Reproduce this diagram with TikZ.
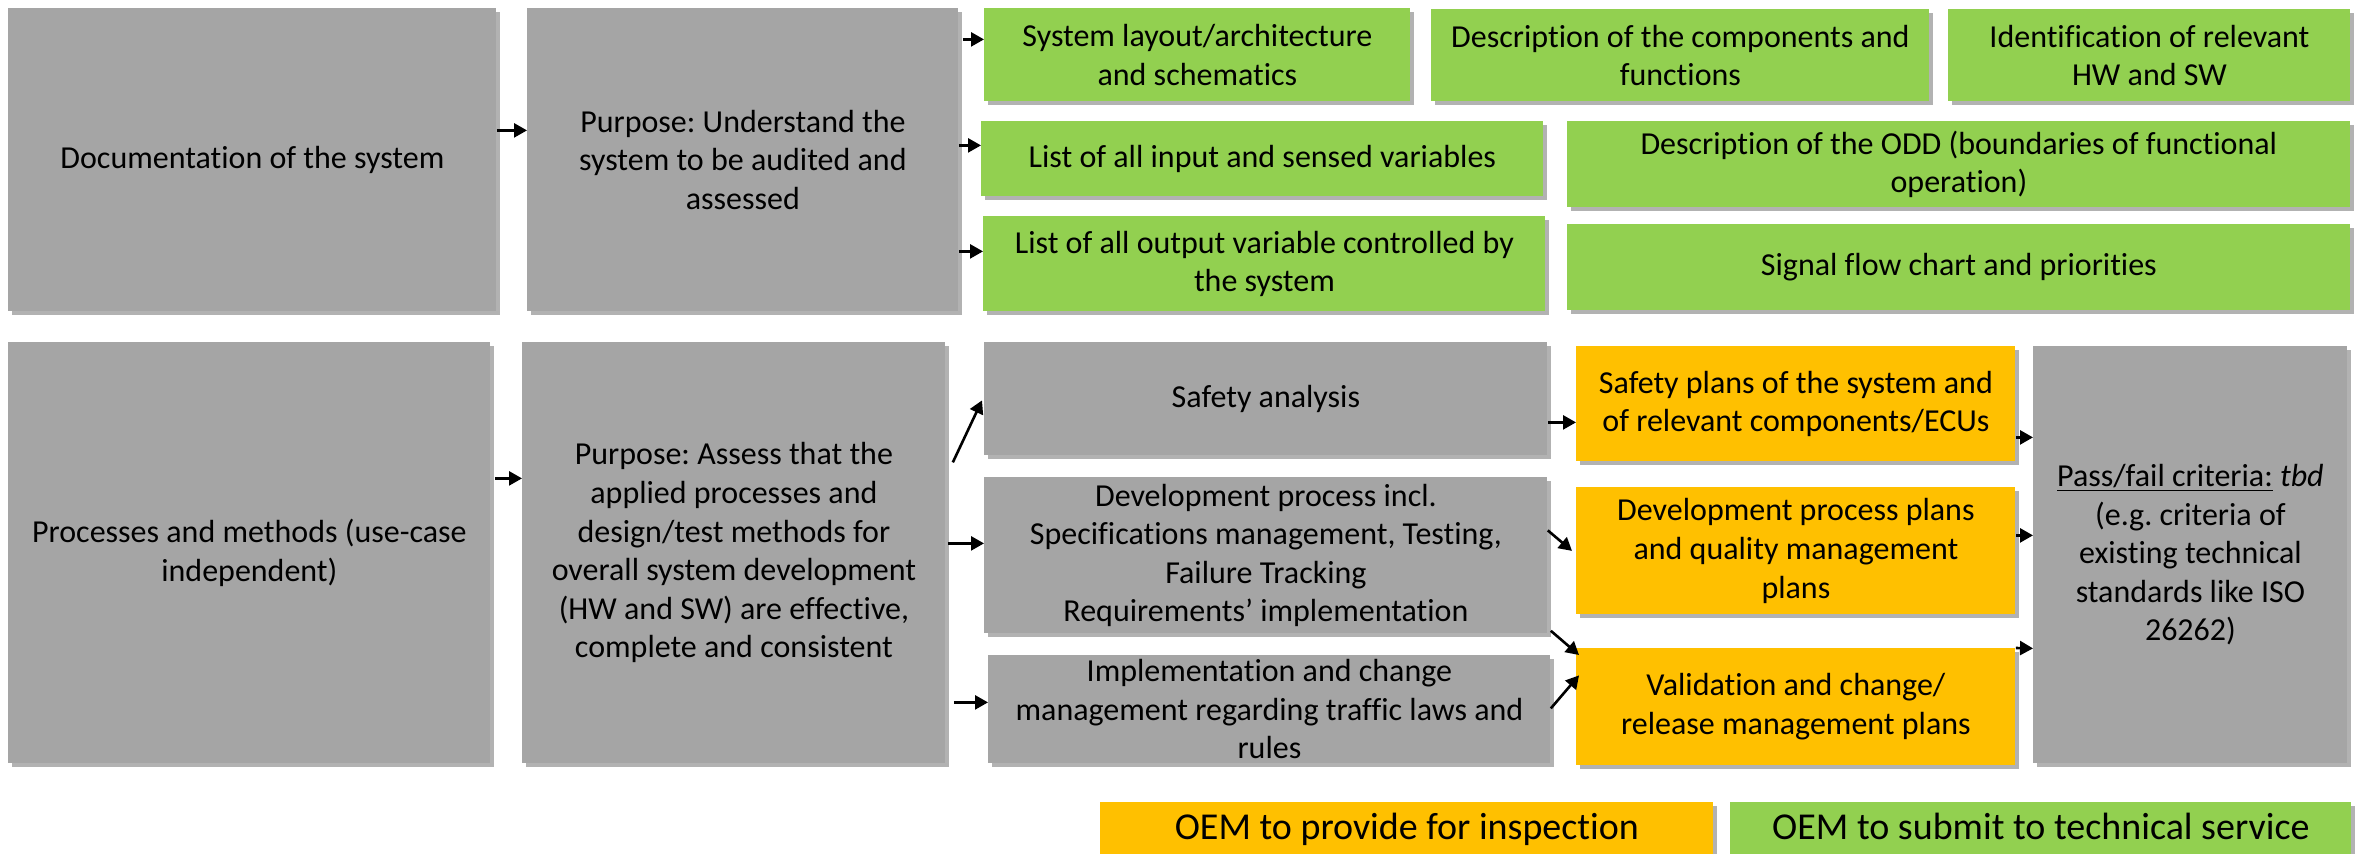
\documentclass[tikz,border=0pt]{standalone}
\usepackage{fontspec}
\setmainfont{Carlito}[Ligatures=NoCommon]
\usetikzlibrary{arrows.meta,shadows}
\definecolor{boxgray}{HTML}{A5A5A5}
\definecolor{boxgreen}{HTML}{92D050}
\definecolor{boxorange}{HTML}{FFC000}
\frenchspacing
\begin{document}
\begin{tikzpicture}[x=0.5pt,y=-0.5pt,
  bx/.style={inner sep=0pt, anchor=north west, align=center, font=\fontsize{16}{19.3}\selectfont\frenchspacing,
    drop shadow={shadow xshift=1.6pt, shadow yshift=-1.6pt, opacity=0.3, fill=black}},
  gbox/.style={bx, fill=boxgray},
  grbox/.style={bx, fill=boxgreen},
  obox/.style={bx, fill=boxorange},
  legbox/.style={bx, font=\fontsize{19}{22}\selectfont, text depth=2pt},
  arr/.style={line width=1.3pt, -{Triangle[length=6.5pt,width=7pt]}}]
\useasboundingbox (0,0) rectangle (2359,854);
% top row
\node[gbox, minimum width=244pt, minimum height=151.5pt] (A) at (8,8) {Documentation of the system};
\node[gbox, minimum width=215.5pt, minimum height=151.5pt] (B) at (527,8) {Purpose: Understand the\\system to be audited and\\assessed};
\node[grbox, minimum width=213pt, minimum height=46.5pt] (g1) at (984,8) {System layout/architecture\\and schematics};
\node[grbox, minimum width=249pt, minimum height=46pt] (g2) at (1431,9) {Description of the components and\\functions};
\node[grbox, minimum width=201pt, minimum height=46pt] (g3) at (1948,9) {Identification of relevant\\HW and SW};
\node[grbox, minimum width=281pt, minimum height=37.5pt] (g4) at (981,121) {List of all input and sensed variables};
\node[grbox, minimum width=391.5pt, minimum height=43pt] (g5) at (1567,121) {Description of the ODD (boundaries of functional\\operation)};
\node[grbox, minimum width=281pt, minimum height=47.5pt] (g6) at (983,216) {List of all output variable controlled by\\the system};
\node[grbox, minimum width=391.5pt, minimum height=43pt] (g7) at (1567,224) {Signal flow chart and priorities};
% bottom row
\node[gbox, minimum width=241pt, minimum height=210.5pt] (C) at (8,342) {Processes and methods (use-case\\independent)};
\node[gbox, minimum width=211.5pt, minimum height=210.5pt] (D) at (522,342) {Purpose: Assess that the\\applied processes and\\design/test methods for\\overall system development\\(HW and SW) are effective,\\complete and consistent};
\node[gbox, minimum width=281.5pt, minimum height=56.5pt] (sa) at (984,342) {Safety analysis};
\node[gbox, minimum width=281.5pt, minimum height=78pt] (dp) at (984,477) {Development process incl.\\Specifications management, Testing,\\Failure Tracking\\Requirements’ implementation};
\node[gbox, minimum width=281pt, minimum height=54pt] (im) at (988,655) {Implementation and change\\management regarding traffic laws and\\rules};
\node[obox, minimum width=219.5pt, minimum height=57.5pt] (o1) at (1576,346) {Safety plans of the system and\\of relevant components/ECUs};
\node[obox, minimum width=219.5pt, minimum height=63.5pt] (o2) at (1576,487) {Development process plans\\and quality management\\plans};
\node[obox, minimum width=219.5pt, minimum height=58.5pt] (o3) at (1576,648) {Validation and change/\\release management plans};
\node[gbox, minimum width=157pt, minimum height=208.5pt] (pf) at (2033,346) {\underline{Pass/fail criteria:} \textit{tbd}\\(e.g. criteria of\\existing technical\\standards like ISO\\26262)};
% legend
\node[legbox, fill=boxorange, minimum width=306.5pt, minimum height=26pt] (lo) at (1100,802) {OEM to provide for inspection};
\node[legbox, fill=boxgreen, minimum width=310.5pt, minimum height=26pt] (lg) at (1730,802) {OEM to submit to technical service};
% arrows top
\draw[arr] ([shift={(0,-29.5)}]A.east) -- ([shift={(0,-29.5)}]B.west);
\draw[arr] ([shift={(4,-120.5)}]B.east) -- ([shift={(0,-15.5)}]g1.west);
\draw[arr] ([shift={(0,-14.5)}]B.east) -- ([shift={(0,-13.5)}]g4.west);
\draw[arr] ([shift={(0,91.5)}]B.east) -- ([shift={(0,-12.5)}]g6.west);
% arrows bottom
\draw[arr] ([shift={(4,-74.5)}]C.east) -- ([shift={(0,-74.5)}]D.west);
\draw[arr] ([shift={(7,-90.5)}]D.east) -- ([shift={(-2,1.5)}]sa.west);
\draw[arr] ([shift={(2,-9.5)}]D.east) -- ([shift={(0,-12)}]dp.west);
\draw[arr] ([shift={(8,149.5)}]D.east) -- ([shift={(0,-7)}]im.west);
\draw[arr] ([shift={(0,23.5)}]sa.east) -- ([shift={(0,18.5)}]o1.west);
\draw[arr] ([shift={(0,-25)}]dp.east) -- ([shift={(-4,0)}]o2.west);
\draw[arr] ([shift={(3,-3)}]dp.south east) -- ([shift={(3,7)}]o3.north west);
\draw[arr] ([shift={(0,-1)}]im.east) -- ([shift={(3,-31.5)}]o3.west);
\draw[arr] ([shift={(0,33.5)}]o1.east) -- ([shift={(0,-117.5)}]pf.west);
\draw[arr] ([shift={(0,-15.5)}]o2.east) -- ([shift={(0,-19.5)}]pf.west);
\draw[arr] (o3.north east) -- ([shift={(0,93.5)}]pf.west);
\end{tikzpicture}
\end{document}
